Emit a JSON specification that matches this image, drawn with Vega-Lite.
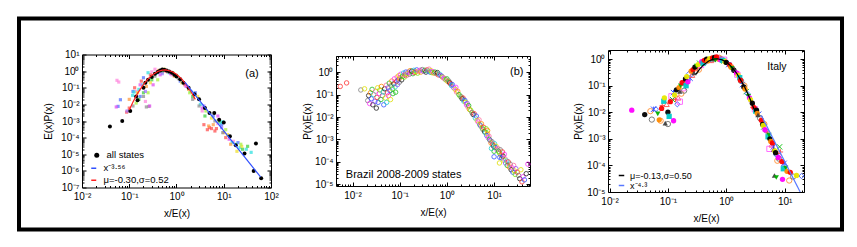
{
"$schema": "https://vega.github.io/schema/vega-lite/v6.json",
"padding": {"left": 16, "top": 16, "right": 14, "bottom": 16},
"background": "white",
"config": {
  "view": {"stroke": "#000", "strokeWidth": 1},
  "font": "Liberation Sans",
  "axis": {"labelFont": "Liberation Sans", "labelFontSize": 10, "titleFont": "Liberation Sans", "titleFontSize": 10, "titleFontWeight": "normal", "grid": false, "domain": false, "tickColor": "#000", "labelColor": "#000", "titleColor": "#000", "labelFlush": false, "labelOverlap": false, "labelBound": false},
  "legend": {"labelFont": "Liberation Sans", "labelColor": "#000"},
  "text": {"font": "Liberation Sans"}
},
"datasets": {
  "aAll": [
    {"g":"all states","x":0.039,"y":4.7e-4},{"g":"all states","x":0.071,"y":1.0e-3},{"g":"all states","x":0.105,"y":4.0e-3},{"g":"all states","x":0.14,"y":0.03},{"g":"all states","x":0.15,"y":0.018},{"g":"all states","x":0.2,"y":0.1},{"g":"all states","x":0.22,"y":0.2},{"g":"all states","x":0.25,"y":0.3},{"g":"all states","x":0.3,"y":0.45},{"g":"all states","x":0.35,"y":0.7},{"g":"all states","x":0.4,"y":0.9},{"g":"all states","x":0.45,"y":1.1},{"g":"all states","x":0.5,"y":1.25},{"g":"all states","x":0.55,"y":1.2},{"g":"all states","x":0.62,"y":1.1},{"g":"all states","x":0.7,"y":0.95},{"g":"all states","x":0.8,"y":0.8},{"g":"all states","x":0.9,"y":0.6},{"g":"all states","x":1.0,"y":0.48},{"g":"all states","x":1.2,"y":0.32},{"g":"all states","x":1.4,"y":0.2},{"g":"all states","x":1.8,"y":0.1},{"g":"all states","x":2.4,"y":0.04},{"g":"all states","x":3.0,"y":0.02},{"g":"all states","x":4.0,"y":6e-3},{"g":"all states","x":5.0,"y":3e-3},{"g":"all states","x":6.3,"y":3e-3},{"g":"all states","x":8.0,"y":1.2e-3},{"g":"all states","x":10,"y":8e-4},{"g":"all states","x":13.5,"y":1.2e-4},{"g":"all states","x":18,"y":3.5e-5},{"g":"all states","x":27.5,"y":1.1e-5},{"g":"all states","x":48,"y":4.4e-5},{"g":"all states","x":43,"y":1.0e-6},{"g":"all states","x":62,"y":3.6e-7}
  ],
  "aLines": [
    {"g":"μ=-0.30,σ=0.52","x":0.1,"y":4.6e-3},{"g":"μ=-0.30,σ=0.52","x":0.12,"y":0.014},{"g":"μ=-0.30,σ=0.52","x":0.15,"y":0.0458},{"g":"μ=-0.30,σ=0.52","x":0.2,"y":0.161},{"g":"μ=-0.30,σ=0.52","x":0.25,"y":0.346},{"g":"μ=-0.30,σ=0.52","x":0.3,"y":0.564},{"g":"μ=-0.30,σ=0.52","x":0.4,"y":0.95},{"g":"μ=-0.30,σ=0.52","x":0.5,"y":1.153},{"g":"μ=-0.30,σ=0.52","x":0.6,"y":1.177},{"g":"μ=-0.30,σ=0.52","x":0.8,"y":0.948},{"g":"μ=-0.30,σ=0.52","x":1.0,"y":0.649},{"g":"μ=-0.30,σ=0.52","x":1.3,"y":0.329},{"g":"μ=-0.30,σ=0.52","x":1.6,"y":0.16},{"g":"μ=-0.30,σ=0.52","x":2.0,"y":0.062},{"g":"μ=-0.30,σ=0.52","x":2.5,"y":0.02},
    {"g":"x⁻³·⁵⁶","x":1.5,"y":0.22},{"g":"x⁻³·⁵⁶","x":60,"y":4.4e-7}
  ],
  "aStates": [
    {"s":8,"x":0.055,"y":0.28},{"s":8,"x":0.06,"y":0.22},{"s":8,"x":0.22,"y":0.015},{"s":8,"x":0.3,"y":0.9},{"s":8,"x":0.35,"y":1.3},{"s":8,"x":0.8,"y":0.6},{"s":8,"x":3.5,"y":0.004},{"s":8,"x":7.5,"y":7e-4},{"s":8,"x":16,"y":6e-5},{"s":8,"x":0.14,"y":0.06},
    {"s":2,"x":0.065,"y":0.019},{"s":2,"x":0.058,"y":0.0076},{"s":2,"x":0.12,"y":0.06},{"s":2,"x":0.2,"y":0.4},{"s":2,"x":0.45,"y":1.0},{"s":2,"x":1.2,"y":0.25},{"s":2,"x":2.5,"y":0.05},{"s":2,"x":6,"y":2e-3},{"s":2,"x":9,"y":6e-4},{"s":2,"x":20,"y":5e-5},{"s":2,"x":0.17,"y":0.03},
    {"s":0,"x":0.088,"y":0.0034},{"s":0,"x":0.1,"y":0.006},{"s":0,"x":0.13,"y":0.1},{"s":0,"x":0.18,"y":0.25},{"s":0,"x":0.28,"y":0.6},{"s":0,"x":0.6,"y":1.0},{"s":0,"x":1.5,"y":0.15},{"s":0,"x":4.5,"y":3e-4},{"s":0,"x":5,"y":4e-4},{"s":0,"x":5.5,"y":3.5e-4},{"s":0,"x":6.5,"y":2.5e-4},{"s":0,"x":7,"y":3.5e-4},{"s":0,"x":11,"y":1e-4},{"s":0,"x":3.8,"y":6e-4},
    {"s":4,"x":0.118,"y":0.035},{"s":4,"x":0.126,"y":0.055},{"s":4,"x":0.16,"y":0.08},{"s":4,"x":0.19,"y":0.15},{"s":4,"x":0.25,"y":0.8},{"s":4,"x":0.38,"y":0.75},{"s":4,"x":0.7,"y":0.8},{"s":4,"x":2,"y":0.06},{"s":4,"x":3.2,"y":0.01},{"s":4,"x":8.5,"y":8e-4},{"s":4,"x":15,"y":5e-5},{"s":4,"x":18,"y":4e-5},{"s":4,"x":22,"y":2.5e-5},{"s":4,"x":38,"y":1.3e-5},{"s":4,"x":30,"y":2e-5},{"s":4,"x":9.5,"y":9e-4},
    {"s":1,"x":0.16,"y":0.02},{"s":1,"x":0.2,"y":0.05},{"s":1,"x":0.3,"y":0.3},{"s":1,"x":0.5,"y":0.9},{"s":1,"x":1.0,"y":0.55},{"s":1,"x":2.2,"y":0.03},{"s":1,"x":4,"y":2e-3},{"s":1,"x":8,"y":1e-3},{"s":1,"x":25,"y":2e-5},{"s":1,"x":32,"y":3e-5},
    {"s":5,"x":0.1,"y":0.02},{"s":5,"x":0.23,"y":0.12},{"s":5,"x":0.42,"y":1.1},{"s":5,"x":0.9,"y":0.5},{"s":5,"x":1.8,"y":0.08},{"s":5,"x":4.8,"y":5e-4},{"s":5,"x":6.0,"y":6e-4},{"s":5,"x":10,"y":2e-4},{"s":5,"x":14,"y":4e-5},
    {"s":6,"x":0.15,"y":0.05},{"s":6,"x":0.28,"y":0.2},{"s":6,"x":0.55,"y":1.3},{"s":6,"x":1.3,"y":0.2},{"s":6,"x":2.8,"y":0.03},{"s":6,"x":5.5,"y":1.5e-3},{"s":6,"x":12,"y":1.5e-4},{"s":6,"x":19,"y":1.5e-5},{"s":6,"x":24,"y":3e-5},
    {"s":7,"x":0.23,"y":0.007},{"s":7,"x":0.26,"y":0.0075},{"s":7,"x":0.2,"y":0.03},{"s":7,"x":0.12,"y":0.008},{"s":7,"x":0.35,"y":0.5},{"s":7,"x":0.65,"y":0.9},{"s":7,"x":1.1,"y":0.35},{"s":7,"x":2.2,"y":0.02},{"s":7,"x":3.0,"y":0.008},{"s":7,"x":6.5,"y":1e-3},{"s":7,"x":9.5,"y":2e-4},
    {"s":3,"x":0.053,"y":0.007},{"s":3,"x":0.27,"y":0.008},{"s":3,"x":0.17,"y":0.15},{"s":3,"x":0.32,"y":0.15},{"s":3,"x":0.45,"y":0.6},{"s":3,"x":0.75,"y":0.7},{"s":3,"x":1.6,"y":0.12},{"s":3,"x":3.5,"y":0.006},{"s":3,"x":7.5,"y":2e-3},{"s":3,"x":13,"y":8e-5},
    {"s":9,"x":0.14,"y":0.012},{"s":9,"x":0.25,"y":0.05},{"s":9,"x":0.4,"y":0.3},{"s":9,"x":0.85,"y":0.75},{"s":9,"x":1.9,"y":0.05},{"s":9,"x":4.2,"y":4e-3},{"s":9,"x":11,"y":3e-4},{"s":9,"x":23,"y":4e-5},
    {"s":10,"x":0.09,"y":0.004},{"s":10,"x":0.22,"y":0.06},{"s":10,"x":0.5,"y":0.7},{"s":10,"x":1.4,"y":0.2},{"s":10,"x":3.8,"y":0.008},{"s":10,"x":9,"y":4e-4}
  ],
  "bPts": [
    {"s":0,"x":0.0055,"y":0.23},{"s":0,"x":0.0075,"y":0.33},{"s":7,"x":0.015,"y":0.16},{"s":6,"x":0.018,"y":0.18},
    {"s":7,"x":0.021,"y":0.054},{"s":8,"x":0.022,"y":0.09},{"s":3,"x":0.023,"y":0.04},{"s":5,"x":0.024,"y":0.12},{"s":2,"x":0.025,"y":0.065},{"s":1,"x":0.026,"y":0.17},{"s":8,"x":0.027,"y":0.035},{"s":4,"x":0.028,"y":0.1},{"s":11,"x":0.03,"y":0.05},{"s":9,"x":0.031,"y":0.14},{"s":8,"x":0.032,"y":0.025},{"s":0,"x":0.033,"y":0.075},{"s":6,"x":0.034,"y":0.2},{"s":2,"x":0.035,"y":0.045},
    {"s":3,"x":0.037,"y":0.11},{"s":10,"x":0.038,"y":0.16},{"s":1,"x":0.04,"y":0.06},{"s":5,"x":0.041,"y":0.23},{"s":7,"x":0.043,"y":0.09},{"s":4,"x":0.045,"y":0.13},{"s":2,"x":0.046,"y":0.035},{"s":8,"x":0.048,"y":0.18},{"s":6,"x":0.05,"y":0.07},{"s":9,"x":0.052,"y":0.26},{"s":4,"x":0.053,"y":0.045},{"s":0,"x":0.055,"y":0.12},{"s":11,"x":0.057,"y":0.2},{"s":3,"x":0.058,"y":0.09},{"s":1,"x":0.06,"y":0.32},
    {"s":2,"x":0.062,"y":0.15},{"s":6,"x":0.064,"y":0.06},{"s":7,"x":0.066,"y":0.25},{"s":5,"x":0.068,"y":0.4},{"s":10,"x":0.07,"y":0.18},{"s":1,"x":0.072,"y":0.11},{"s":8,"x":0.075,"y":0.3},{"s":3,"x":0.077,"y":0.5},{"s":4,"x":0.08,"y":0.22},{"s":1,"x":0.082,"y":0.127},{"s":0,"x":0.085,"y":0.38},{"s":9,"x":0.088,"y":0.6},{"s":11,"x":0.09,"y":0.28},{"s":2,"x":0.093,"y":0.45},{"s":6,"x":0.096,"y":0.7},{"s":7,"x":0.098,"y":0.35},
    {"s":5,"x":0.1,"y":0.55},{"s":3,"x":0.105,"y":0.8},{"s":8,"x":0.11,"y":0.45},{"s":1,"x":0.115,"y":0.65},{"s":4,"x":0.12,"y":0.9},{"s":10,"x":0.125,"y":0.6},{"s":0,"x":0.13,"y":0.75},{"s":2,"x":0.135,"y":1.0},{"s":9,"x":0.14,"y":0.7},{"s":6,"x":0.145,"y":0.85},
    {"s":11,"x":0.15,"y":1.0},{"s":7,"x":0.16,"y":0.8},{"s":5,"x":0.165,"y":1.15},{"s":3,"x":0.17,"y":0.9},{"s":8,"x":0.18,"y":1.1},{"s":1,"x":0.19,"y":0.85},{"s":4,"x":0.2,"y":1.2},{"s":0,"x":0.21,"y":0.95},{"s":6,"x":0.22,"y":1.05},{"s":2,"x":0.23,"y":1.25},{"s":10,"x":0.24,"y":0.9},{"s":9,"x":0.25,"y":1.1},
    {"s":3,"x":0.27,"y":1.2},{"s":5,"x":0.28,"y":1.0},{"s":7,"x":0.3,"y":1.3},{"s":11,"x":0.32,"y":1.1},{"s":1,"x":0.34,"y":1.2},{"s":8,"x":0.36,"y":1.0},{"s":0,"x":0.38,"y":1.25},{"s":4,"x":0.4,"y":1.1},{"s":9,"x":0.42,"y":1.35},{"s":2,"x":0.44,"y":1.0},{"s":6,"x":0.46,"y":1.15},{"s":10,"x":0.48,"y":0.95},
    {"s":3,"x":0.5,"y":1.05},{"s":5,"x":0.53,"y":0.9},{"s":1,"x":0.56,"y":1.0},{"s":7,"x":0.6,"y":0.85},{"s":8,"x":0.63,"y":0.95},{"s":0,"x":0.66,"y":0.75},{"s":4,"x":0.7,"y":0.8},{"s":11,"x":0.74,"y":0.7},{"s":2,"x":0.78,"y":0.65},
    {"s":6,"x":0.8,"y":0.6},{"s":9,"x":0.85,"y":0.55},{"s":3,"x":0.9,"y":0.5},{"s":10,"x":0.95,"y":0.45},{"s":1,"x":1.0,"y":0.5},{"s":5,"x":1.05,"y":0.38},{"s":7,"x":1.1,"y":0.4},{"s":8,"x":1.15,"y":0.33},{"s":0,"x":1.2,"y":0.3},
    {"s":4,"x":1.25,"y":0.25},{"s":2,"x":1.3,"y":0.28},{"s":11,"x":1.4,"y":0.2},{"s":6,"x":1.5,"y":0.17},{"s":3,"x":1.55,"y":0.21},{"s":9,"x":1.6,"y":0.13},{"s":5,"x":1.7,"y":0.14},{"s":1,"x":1.8,"y":0.1},{"s":10,"x":1.9,"y":0.085},{"s":7,"x":2.0,"y":0.08},
    {"s":8,"x":2.1,"y":0.065},{"s":0,"x":2.2,"y":0.07},{"s":4,"x":2.3,"y":0.05},{"s":2,"x":2.4,"y":0.055},{"s":6,"x":2.5,"y":0.045},{"s":3,"x":2.6,"y":0.035},{"s":11,"x":2.7,"y":0.04},{"s":9,"x":2.8,"y":0.028},{"s":1,"x":2.9,"y":0.032},{"s":5,"x":3.0,"y":0.022},
    {"s":10,"x":3.2,"y":0.02},{"s":7,"x":3.4,"y":0.016},{"s":8,"x":3.6,"y":0.013},{"s":0,"x":3.8,"y":0.014},{"s":4,"x":4.0,"y":0.009},{"s":2,"x":4.2,"y":0.011},{"s":6,"x":4.4,"y":0.007},{"s":3,"x":4.6,"y":0.006},{"s":9,"x":4.8,"y":0.0075},{"s":1,"x":5.0,"y":0.0045},
    {"s":11,"x":5.2,"y":0.004},{"s":5,"x":5.4,"y":0.005},{"s":10,"x":5.6,"y":0.0032},{"s":7,"x":5.8,"y":0.0028},{"s":0,"x":6.0,"y":0.0035},{"s":8,"x":6.3,"y":0.0022},{"s":4,"x":6.6,"y":0.002},{"s":2,"x":7.0,"y":0.0015},{"s":6,"x":7.2,"y":0.0018},{"s":3,"x":7.5,"y":0.0012},{"s":9,"x":7.8,"y":0.0014},{"s":1,"x":8.0,"y":0.001},{"s":10,"x":6.8,"y":0.003},{"s":5,"x":7.3,"y":0.0025},
    {"s":11,"x":8.3,"y":9e-4},{"s":5,"x":8.6,"y":7e-4},{"s":7,"x":9.0,"y":8e-4},{"s":0,"x":9.4,"y":6e-4},{"s":8,"x":9.8,"y":5e-4},{"s":4,"x":10.2,"y":6.5e-4},{"s":2,"x":10.6,"y":4.5e-4},{"s":6,"x":11,"y":5e-4},{"s":3,"x":11.5,"y":3.5e-4},{"s":9,"x":12,"y":4e-4},{"s":4,"x":8.8,"y":4e-4},{"s":1,"x":10,"y":3e-4},{"s":2,"x":10,"y":1.7e-4},{"s":6,"x":13,"y":9e-5},
    {"s":1,"x":12.5,"y":3e-4},{"s":10,"x":13,"y":2.5e-4},{"s":7,"x":13.5,"y":3.5e-4},{"s":5,"x":14,"y":2e-4},{"s":2,"x":14.5,"y":1.5e-4},{"s":0,"x":15,"y":2.8e-4},{"s":8,"x":15.5,"y":1.8e-4},{"s":6,"x":16,"y":1.2e-4},{"s":3,"x":16.5,"y":2.2e-4},{"s":9,"x":17,"y":1.4e-4},{"s":11,"x":17.5,"y":9e-5},{"s":2,"x":13.2,"y":1.6e-4},
    {"s":4,"x":18.5,"y":1.1e-4},{"s":1,"x":19,"y":7e-5},{"s":0,"x":20,"y":1e-4},{"s":5,"x":21,"y":6e-5},{"s":7,"x":22,"y":8e-5},{"s":8,"x":23,"y":4.5e-5},{"s":3,"x":24,"y":5.5e-5},{"s":2,"x":25,"y":3.5e-5},{"s":9,"x":26,"y":7e-5},{"s":6,"x":27,"y":4e-5},{"s":10,"x":28,"y":2.8e-5},{"s":11,"x":29,"y":5e-5},
    {"s":0,"x":31,"y":3.5e-5},{"s":7,"x":33,"y":2.5e-5},{"s":8,"x":35,"y":1.8e-5},{"s":6,"x":37,"y":4.5e-5},{"s":0,"x":39,"y":1.3e-5},{"s":3,"x":41,"y":2.2e-5},{"s":2,"x":44,"y":1.6e-5},{"s":8,"x":48,"y":3e-5},{"s":3,"x":52,"y":8e-5}
  ],
  "cF": [
    {"s":2,"x":0.024,"y":0.012},{"s":0,"x":0.04,"y":0.0082},{"s":5,"x":0.067,"y":0.0087},{"s":3,"x":0.071,"y":0.0052},{"s":1,"x":0.078,"y":0.014},{"s":4,"x":0.085,"y":0.026},{"s":6,"x":0.087,"y":0.035},{"s":13,"x":0.09,"y":0.0039},{"s":0,"x":0.1,"y":0.01},{"s":4,"x":0.105,"y":0.007},{"s":2,"x":0.125,"y":0.0048},
    {"s":1,"x":0.11,"y":0.025},{"s":6,"x":0.13,"y":0.045},{"s":0,"x":0.14,"y":0.07},{"s":3,"x":0.155,"y":0.085},{"s":13,"x":0.16,"y":0.06},{"s":5,"x":0.165,"y":0.1},{"s":1,"x":0.175,"y":0.13},
    {"s":0,"x":0.2,"y":0.18},{"s":4,"x":0.205,"y":0.1},{"s":6,"x":0.21,"y":0.22},{"s":2,"x":0.22,"y":0.14},{"s":3,"x":0.25,"y":0.35},{"s":1,"x":0.27,"y":0.4},{"s":13,"x":0.28,"y":0.3},{"s":0,"x":0.29,"y":0.5},{"s":5,"x":0.31,"y":0.55},{"s":6,"x":0.33,"y":0.62},
    {"s":2,"x":0.38,"y":0.8},{"s":4,"x":0.4,"y":0.7},{"s":1,"x":0.42,"y":0.9},{"s":0,"x":0.46,"y":1.0},{"s":3,"x":0.48,"y":0.85},
    {"s":6,"x":0.52,"y":1.05},{"s":1,"x":0.58,"y":1.1},{"s":13,"x":0.6,"y":1.0},{"s":0,"x":0.63,"y":1.15},{"s":3,"x":0.73,"y":1.0},{"s":2,"x":0.79,"y":0.95},{"s":1,"x":0.68,"y":1.2},{"s":5,"x":0.65,"y":0.9},
    {"s":4,"x":0.86,"y":0.9},{"s":6,"x":0.95,"y":0.8},{"s":0,"x":1.0,"y":0.75},{"s":1,"x":1.15,"y":0.6},{"s":3,"x":1.2,"y":0.5},
    {"s":5,"x":1.25,"y":0.45},{"s":0,"x":1.35,"y":0.38},{"s":13,"x":1.4,"y":0.4},{"s":2,"x":1.5,"y":0.3},{"s":6,"x":1.6,"y":0.25},
    {"s":4,"x":1.7,"y":0.2},{"s":1,"x":1.75,"y":0.16},{"s":0,"x":2.0,"y":0.09},{"s":3,"x":2.1,"y":0.075},
    {"s":5,"x":2.4,"y":0.04},{"s":2,"x":2.5,"y":0.035},{"s":6,"x":2.6,"y":0.03},{"s":0,"x":2.8,"y":0.022},{"s":1,"x":3.0,"y":0.015},
    {"s":4,"x":3.2,"y":0.011},{"s":0,"x":3.3,"y":0.012},{"s":3,"x":3.4,"y":0.009},{"s":13,"x":3.5,"y":0.008},{"s":1,"x":4.0,"y":0.005},
    {"s":0,"x":4.2,"y":0.0035},{"s":6,"x":4.3,"y":0.0032},{"s":2,"x":4.6,"y":0.0022},
    {"s":4,"x":5.2,"y":0.0012},{"s":5,"x":5.4,"y":0.0014},{"s":0,"x":5.6,"y":0.001},{"s":3,"x":5.8,"y":8e-4},{"s":1,"x":6.2,"y":7e-4},{"s":13,"x":6.5,"y":4e-4},
    {"s":6,"x":6.8,"y":3.5e-4},{"s":0,"x":7.0,"y":3e-4},{"s":2,"x":7.8,"y":2e-4},
    {"s":1,"x":9.0,"y":1.4e-4},{"s":4,"x":9.5,"y":7.5e-5},{"s":5,"x":10.5,"y":8e-5},{"s":3,"x":11,"y":6e-5},{"s":2,"x":9.2,"y":3e-5},
    {"s":13,"x":6.7,"y":4.2e-5},{"s":5,"x":7.2,"y":3.5e-5},{"s":6,"x":16,"y":4.2e-5},{"s":1,"x":12.5,"y":5.5e-5}
  ],
  "cO": [
    {"s":7,"x":0.053,"y":0.0053},{"s":14,"x":0.05,"y":0.011},{"s":12,"x":0.057,"y":0.013},{"s":9,"x":0.062,"y":0.013},{"s":14,"x":0.075,"y":0.0048},{"s":7,"x":0.1,"y":0.0036},{"s":15,"x":0.095,"y":0.02},{"s":10,"x":0.08,"y":0.018},
    {"s":8,"x":0.115,"y":0.04},{"s":11,"x":0.12,"y":0.03},{"s":12,"x":0.125,"y":0.055},{"s":10,"x":0.135,"y":0.03},{"s":9,"x":0.145,"y":0.02},{"s":15,"x":0.15,"y":0.035},{"s":14,"x":0.17,"y":0.05},{"s":8,"x":0.18,"y":0.08},{"s":10,"x":0.185,"y":0.15},{"s":7,"x":0.19,"y":0.065},{"s":11,"x":0.195,"y":0.12},{"s":8,"x":0.16,"y":0.025},
    {"s":9,"x":0.23,"y":0.28},{"s":12,"x":0.24,"y":0.19},{"s":15,"x":0.26,"y":0.25},{"s":7,"x":0.3,"y":0.35},{"s":10,"x":0.32,"y":0.45},{"s":14,"x":0.34,"y":0.4},{"s":11,"x":0.35,"y":0.7},
    {"s":8,"x":0.37,"y":0.6},{"s":9,"x":0.44,"y":0.75},{"s":12,"x":0.5,"y":0.95},
    {"s":15,"x":0.55,"y":0.9},{"s":10,"x":0.66,"y":1.05},{"s":8,"x":0.7,"y":1.1},{"s":14,"x":0.76,"y":1.12},
    {"s":7,"x":0.82,"y":1.0},{"s":11,"x":0.9,"y":0.85},{"s":9,"x":1.05,"y":0.7},{"s":12,"x":1.1,"y":0.62},{"s":8,"x":0.92,"y":0.95},
    {"s":15,"x":1.3,"y":0.5},{"s":10,"x":1.45,"y":0.32},{"s":8,"x":1.55,"y":0.26},
    {"s":7,"x":1.8,"y":0.15},{"s":12,"x":1.9,"y":0.11},{"s":14,"x":2.05,"y":0.1},{"s":11,"x":2.2,"y":0.06},
    {"s":9,"x":2.3,"y":0.05},{"s":10,"x":2.7,"y":0.025},{"s":15,"x":2.9,"y":0.018},
    {"s":8,"x":3.1,"y":0.013},{"s":12,"x":3.6,"y":0.0085},{"s":7,"x":3.8,"y":0.006},
    {"s":11,"x":4.4,"y":0.0028},{"s":14,"x":4.5,"y":0.0036},{"s":9,"x":4.8,"y":0.002},{"s":10,"x":5.0,"y":0.0018},
    {"s":15,"x":6.0,"y":6e-4},{"s":12,"x":6.4,"y":5e-4},{"s":8,"x":5.5,"y":4.2e-4},
    {"s":9,"x":7.2,"y":2.5e-4},{"s":10,"x":7.5,"y":2.8e-4},{"s":7,"x":8.0,"y":1.8e-4},{"s":11,"x":8.2,"y":5e-4},{"s":10,"x":8.5,"y":3.2e-4},{"s":14,"x":7.5,"y":1.5e-4},
    {"s":12,"x":9.8,"y":1.2e-4},{"s":9,"x":10,"y":1e-4},
    {"s":14,"x":12,"y":2.7e-5},{"s":9,"x":19.5,"y":4e-5},{"s":7,"x":14,"y":3.8e-5}
  ],
  "cLines": [
    {"g":"μ=-0.13,σ=0.50","x":0.3,"y":0.265},{"g":"μ=-0.13,σ=0.50","x":0.35,"y":0.42},{"g":"μ=-0.13,σ=0.50","x":0.4,"y":0.58},{"g":"μ=-0.13,σ=0.50","x":0.5,"y":0.846},{"g":"μ=-0.13,σ=0.50","x":0.6,"y":0.995},{"g":"μ=-0.13,σ=0.50","x":0.7,"y":1.03},{"g":"μ=-0.13,σ=0.50","x":0.85,"y":0.937},{"g":"μ=-0.13,σ=0.50","x":1.0,"y":0.772},{"g":"μ=-0.13,σ=0.50","x":1.2,"y":0.547},{"g":"μ=-0.13,σ=0.50","x":1.5,"y":0.30},{"g":"μ=-0.13,σ=0.50","x":2.0,"y":0.103},{"g":"μ=-0.13,σ=0.50","x":2.5,"y":0.0358},{"g":"μ=-0.13,σ=0.50","x":3.0,"y":0.013},
    {"g":"x⁻⁴·³","x":4.0,"y":7.6e-3},{"g":"x⁻⁴·³","x":18.5,"y":1.0e-5}
  ]
},
"bounds": "flush",
"center": true,
"spacing": 0,
"resolve": {"scale": {"color": "independent", "fill": "independent", "stroke": "independent", "shape": "independent"}, "legend": {"color": "independent", "fill": "independent", "stroke": "independent", "shape": "independent"}},
"hconcat": [
    {"width": 189, "height": 133,
     "resolve": {"axis": {"x": "independent", "y": "independent"}},
     "layer": [
      {"data": {"name": "aStates"}, "mark": {"type": "square", "size": 10, "opacity": 0.75, "filled": true},
       "encoding": {
        "x": {"field": "x", "type": "quantitative", "scale": {"type": "log", "domain": [0.01, 100], "nice": false},
              "axis": {"orient": "bottom", "values": [0.01,0.02,0.03,0.04,0.05,0.06,0.07,0.08,0.09,0.1,0.2,0.3,0.4,0.5,0.6,0.7,0.8,0.9,1,2,3,4,5,6,7,8,9,10,20,30,40,50,60,70,80,90,100],
                       "labelExpr": "abs(log(datum.value)/LN10 - round(log(datum.value)/LN10)) < 0.01 ? '10' + (datum.value < 0.5 ? '⁻' : '') + substring('⁰¹²³⁴⁵⁶⁷⁸⁹', abs(round(log(datum.value)/LN10)), abs(round(log(datum.value)/LN10)) + 1) : ''",
                       "tickSize": {"condition": {"test": "abs(log(datum.value)/LN10 - round(log(datum.value)/LN10)) < 0.01", "value": -4}, "value": -2},
                       "labelPadding": 8, "title": "x/E(x)", "titlePadding": 5}},
        "y": {"field": "y", "type": "quantitative", "scale": {"type": "log", "domain": [1e-7, 10], "nice": false},
              "axis": {"orient": "left", "values": [1e-7,2e-7,3e-7,4e-7,5e-7,6e-7,7e-7,8e-7,9e-7,1e-6,2e-6,3e-6,4e-6,5e-6,6e-6,7e-6,8e-6,9e-6,1e-5,2e-5,3e-5,4e-5,5e-5,6e-5,7e-5,8e-5,9e-5,1e-4,2e-4,3e-4,4e-4,5e-4,6e-4,7e-4,8e-4,9e-4,0.001,0.002,0.003,0.004,0.005,0.006,0.007,0.008,0.009,0.01,0.02,0.03,0.04,0.05,0.06,0.07,0.08,0.09,0.1,0.2,0.3,0.4,0.5,0.6,0.7,0.8,0.9,1,2,3,4,5,6,7,8,9,10],
                       "labelExpr": "abs(log(datum.value)/LN10 - round(log(datum.value)/LN10)) < 0.01 ? '10' + (datum.value < 0.5 ? '⁻' : '') + substring('⁰¹²³⁴⁵⁶⁷⁸⁹', abs(round(log(datum.value)/LN10)), abs(round(log(datum.value)/LN10)) + 1) : ''",
                       "tickSize": {"condition": {"test": "abs(log(datum.value)/LN10 - round(log(datum.value)/LN10)) < 0.01", "value": -4}, "value": -2},
                       "labelPadding": 7, "title": "E(x)P(x)", "titlePadding": 7}},
        "fill": {"field": "s", "type": "nominal", "scale": {"domain": [0,1,2,3,4,5,6,7,8,9,10], "range": ["#ff5050","#40d040","#5070ff","#e050f0","#30e0e0","#ff9a40","#f0e030","#909090","#ff88dd","#a8f040","#a070ff"]}, "legend": null}
       }},
      {"data": {"name": "aAll"}, "mark": {"type": "circle", "size": 16, "opacity": 1},
       "encoding": {
        "x": {"field": "x", "type": "quantitative", "scale": {"type": "log"},
              "axis": {"orient": "top", "values": [0.01,0.02,0.03,0.04,0.05,0.06,0.07,0.08,0.09,0.1,0.2,0.3,0.4,0.5,0.6,0.7,0.8,0.9,1,2,3,4,5,6,7,8,9,10,20,30,40,50,60,70,80,90,100], "labels": false, "title": null,
                       "tickSize": {"condition": {"test": "abs(log(datum.value)/LN10 - round(log(datum.value)/LN10)) < 0.01", "value": -4}, "value": -2}}},
        "y": {"field": "y", "type": "quantitative", "scale": {"type": "log"},
              "axis": {"orient": "right", "values": [1e-7,2e-7,3e-7,4e-7,5e-7,6e-7,7e-7,8e-7,9e-7,1e-6,2e-6,3e-6,4e-6,5e-6,6e-6,7e-6,8e-6,9e-6,1e-5,2e-5,3e-5,4e-5,5e-5,6e-5,7e-5,8e-5,9e-5,1e-4,2e-4,3e-4,4e-4,5e-4,6e-4,7e-4,8e-4,9e-4,0.001,0.002,0.003,0.004,0.005,0.006,0.007,0.008,0.009,0.01,0.02,0.03,0.04,0.05,0.06,0.07,0.08,0.09,0.1,0.2,0.3,0.4,0.5,0.6,0.7,0.8,0.9,1,2,3,4,5,6,7,8,9,10], "labels": false, "title": null,
                       "tickSize": {"condition": {"test": "abs(log(datum.value)/LN10 - round(log(datum.value)/LN10)) < 0.01", "value": -4}, "value": -2}}},
        "color": {"field": "g", "type": "nominal", "scale": {"domain": ["all states"], "range": ["#000000"]},
                  "legend": {"orient": "none", "legendX": 10, "legendY": 96, "title": null, "labelFontSize": 9.5, "symbolSize": 25, "labelOffset": 5, "padding": 0}}
       }},
      {"data": {"name": "aLines"}, "mark": {"type": "line", "strokeWidth": 1.2, "clip": true},
       "encoding": {
        "x": {"field": "x", "type": "quantitative", "scale": {"type": "log"}, "axis": null},
        "y": {"field": "y", "type": "quantitative", "scale": {"type": "log"}, "axis": null},
        "stroke": {"field": "g", "type": "nominal", "scale": {"domain": ["x⁻³·⁵⁶", "μ=-0.30,σ=0.52"], "range": ["#3050ff", "#ff2020"]},
                   "legend": {"orient": "bottom-left", "offset": 2, "title": null, "labelFontSize": 9.5, "symbolSize": 25, "rowPadding": 1, "labelOffset": 5, "padding": 0, "symbolOffset": 5, "symbolType": "stroke", "symbolStrokeWidth": 1.5}}
       }},
      {"data": {"values": [{"t": "(a)"}]}, "mark": {"type": "text", "fontSize": 11},
       "encoding": {
        "x": {"datum": 39.6, "type": "quantitative", "scale": {"type": "log"}, "axis": null},
        "y": {"datum": 0.716, "type": "quantitative", "scale": {"type": "log"}, "axis": null},
        "text": {"field": "t"}
       }},
      {"data": {"values": [{"k": "frame"}]}, "mark": {"type": "rect", "filled": false, "stroke": "#000", "strokeWidth": 4, "clip": false},
       "encoding": {
        "x": {"datum": 4.642e-4, "type": "quantitative", "scale": {"type": "log"}, "axis": null},
        "x2": {"datum": 1.216e14},
        "y": {"datum": 1463.5, "type": "quantitative", "scale": {"type": "log"}, "axis": null},
        "y2": {"datum": 2.98e-10}
       }}
     ]},
    {"width": 65, "height": 10, "view": {"stroke": null}, "data": {"values": [{"k": 1}]}, "mark": {"type": "point", "opacity": 0}, "encoding": {}},
      {"width": 194, "height": 130,
       "resolve": {"axis": {"x": "independent", "y": "independent"}},
       "layer": [
        {"data": {"name": "bPts"}, "mark": {"type": "point", "shape": "circle", "size": 20, "strokeWidth": 1, "opacity": 0.8, "filled": false},
         "encoding": {
          "x": {"field": "x", "type": "quantitative", "scale": {"type": "log", "domain": [0.00447, 57.7], "nice": false},
                "axis": {"orient": "bottom", "values": [0.005,0.006,0.007,0.008,0.009,0.01,0.02,0.03,0.04,0.05,0.06,0.07,0.08,0.09,0.1,0.2,0.3,0.4,0.5,0.6,0.7,0.8,0.9,1,2,3,4,5,6,7,8,9,10,20,30,40,50],
                         "labelExpr": "abs(log(datum.value)/LN10 - round(log(datum.value)/LN10)) < 0.01 ? '10' + (datum.value < 0.5 ? '⁻' : '') + substring('⁰¹²³⁴⁵⁶⁷⁸⁹', abs(round(log(datum.value)/LN10)), abs(round(log(datum.value)/LN10)) + 1) : ''",
                         "tickSize": {"condition": {"test": "abs(log(datum.value)/LN10 - round(log(datum.value)/LN10)) < 0.01", "value": -4}, "value": -2},
                         "labelPadding": 8, "title": "x/E(x)", "titlePadding": 5}},
          "y": {"field": "y", "type": "quantitative", "scale": {"type": "log", "domain": [8.5e-6, 5.2], "nice": false},
                "axis": {"orient": "left", "values": [9e-6,1e-5,2e-5,3e-5,4e-5,5e-5,6e-5,7e-5,8e-5,9e-5,1e-4,2e-4,3e-4,4e-4,5e-4,6e-4,7e-4,8e-4,9e-4,0.001,0.002,0.003,0.004,0.005,0.006,0.007,0.008,0.009,0.01,0.02,0.03,0.04,0.05,0.06,0.07,0.08,0.09,0.1,0.2,0.3,0.4,0.5,0.6,0.7,0.8,0.9,1,2,3,4,5],
                         "labelExpr": "abs(log(datum.value)/LN10 - round(log(datum.value)/LN10)) < 0.01 ? '10' + (datum.value < 0.5 ? '⁻' : '') + substring('⁰¹²³⁴⁵⁶⁷⁸⁹', abs(round(log(datum.value)/LN10)), abs(round(log(datum.value)/LN10)) + 1) : ''",
                         "tickSize": {"condition": {"test": "abs(log(datum.value)/LN10 - round(log(datum.value)/LN10)) < 0.01", "value": -4}, "value": -2},
                         "labelPadding": 7, "title": "P(x)E(x)", "titlePadding": 2}},
          "color": {"field": "s", "type": "nominal", "scale": {"domain": [0,1,2,3,4,5,6,7,8,9,10,11], "range": ["#ff3030","#20c020","#3050ff","#ff30ff","#20d0d0","#ff8c00","#e0e000","#808080","#202020","#ff70a0","#70f000","#9050ff"]}, "legend": null}
         }},
        {"data": {"values": [{"t": "Brazil 2008-2009 states"}]}, "mark": {"type": "text", "fontSize": 11, "align": "left", "baseline": "middle"},
         "encoding": {
          "x": {"datum": 0.00723, "type": "quantitative", "scale": {"type": "log"},
                "axis": {"orient": "top", "values": [0.005,0.006,0.007,0.008,0.009,0.01,0.02,0.03,0.04,0.05,0.06,0.07,0.08,0.09,0.1,0.2,0.3,0.4,0.5,0.6,0.7,0.8,0.9,1,2,3,4,5,6,7,8,9,10,20,30,40,50], "labels": false, "title": null,
                         "tickSize": {"condition": {"test": "abs(log(datum.value)/LN10 - round(log(datum.value)/LN10)) < 0.01", "value": -4}, "value": -2}}},
          "y": {"datum": 2.54e-5, "type": "quantitative", "scale": {"type": "log"},
                "axis": {"orient": "right", "values": [9e-6,1e-5,2e-5,3e-5,4e-5,5e-5,6e-5,7e-5,8e-5,9e-5,1e-4,2e-4,3e-4,4e-4,5e-4,6e-4,7e-4,8e-4,9e-4,0.001,0.002,0.003,0.004,0.005,0.006,0.007,0.008,0.009,0.01,0.02,0.03,0.04,0.05,0.06,0.07,0.08,0.09,0.1,0.2,0.3,0.4,0.5,0.6,0.7,0.8,0.9,1,2,3,4,5], "labels": false, "title": null,
                         "tickSize": {"condition": {"test": "abs(log(datum.value)/LN10 - round(log(datum.value)/LN10)) < 0.01", "value": -4}, "value": -2}}},
          "text": {"field": "t"}
         }},
        {"data": {"values": [{"t": "(b)"}]}, "mark": {"type": "text", "fontSize": 11},
         "encoding": {
          "x": {"datum": 30.3, "type": "quantitative", "scale": {"type": "log"}, "axis": null},
          "y": {"datum": 1.03, "type": "quantitative", "scale": {"type": "log"}, "axis": null},
          "text": {"field": "t"}
         }}
       ]},
    {"width": 78, "height": 10, "view": {"stroke": null}, "data": {"values": [{"k": 1}]}, "mark": {"type": "point", "opacity": 0}, "encoding": {}},
      {"width": 196, "height": 142,
       "resolve": {"axis": {"x": "independent", "y": "independent"}},
       "layer": [
        {"data": {"name": "cO"}, "mark": {"type": "point", "size": 28, "strokeWidth": 1, "filled": false, "opacity": 0.9},
         "encoding": {
          "x": {"field": "x", "type": "quantitative", "scale": {"type": "log", "domain": [0.0094, 21.5], "nice": false},
                "axis": {"orient": "bottom", "values": [0.01,0.02,0.03,0.04,0.05,0.06,0.07,0.08,0.09,0.1,0.2,0.3,0.4,0.5,0.6,0.7,0.8,0.9,1,2,3,4,5,6,7,8,9,10,20],
                         "labelExpr": "abs(log(datum.value)/LN10 - round(log(datum.value)/LN10)) < 0.01 ? '10' + (datum.value < 0.5 ? '⁻' : '') + substring('⁰¹²³⁴⁵⁶⁷⁸⁹', abs(round(log(datum.value)/LN10)), abs(round(log(datum.value)/LN10)) + 1) : ''",
                         "tickSize": {"condition": {"test": "abs(log(datum.value)/LN10 - round(log(datum.value)/LN10)) < 0.01", "value": -4}, "value": -2},
                         "labelPadding": 8, "title": "x/E(x)", "titlePadding": 5}},
          "y": {"field": "y", "type": "quantitative", "scale": {"type": "log", "domain": [1e-5, 2.2], "nice": false},
                "axis": {"orient": "left", "values": [1e-5,2e-5,3e-5,4e-5,5e-5,6e-5,7e-5,8e-5,9e-5,1e-4,2e-4,3e-4,4e-4,5e-4,6e-4,7e-4,8e-4,9e-4,0.001,0.002,0.003,0.004,0.005,0.006,0.007,0.008,0.009,0.01,0.02,0.03,0.04,0.05,0.06,0.07,0.08,0.09,0.1,0.2,0.3,0.4,0.5,0.6,0.7,0.8,0.9,1,2],
                         "labelExpr": "abs(log(datum.value)/LN10 - round(log(datum.value)/LN10)) < 0.01 ? '10' + (datum.value < 0.5 ? '⁻' : '') + substring('⁰¹²³⁴⁵⁶⁷⁸⁹', abs(round(log(datum.value)/LN10)), abs(round(log(datum.value)/LN10)) + 1) : ''",
                         "tickSize": {"condition": {"test": "abs(log(datum.value)/LN10 - round(log(datum.value)/LN10)) < 0.01", "value": -4}, "value": -2},
                         "labelPadding": 7, "title": "P(x)E(x)", "titlePadding": 3}},
          "color": {"field": "s", "type": "nominal", "scale": {"domain": [0,1,2,3,4,5,6,7,8,9,10,11,12,13,14,15], "range": ["#000000","#ff0000","#ff00ff","#ff8c00","#00c8c8","#00b000","#e8e800","#707070","#ff60ff","#4060ff","#ff4040","#00c000","#2040ff","#404040","#ff9030","#ff5050"]}, "legend": null},
          "shape": {"field": "s", "type": "nominal", "scale": {"domain": [0,1,2,3,4,5,6,7,8,9,10,11,12,13,14,15], "range": ["circle","circle","circle","circle","square","triangle-down","circle","circle","square","diamond","M-1,0L1,0M0,-1L0,1","M-1,-1L1,1M1,-1L-1,1","M-1,-1L1,1M1,-1L-1,1M0,-1L0,1","triangle-up","circle","triangle-up"]}, "legend": null}
         }},
        {"data": {"name": "cF"}, "mark": {"type": "point", "size": 28, "filled": true, "opacity": 0.95},
         "encoding": {
          "x": {"field": "x", "type": "quantitative", "scale": {"type": "log"}, "axis": null},
          "y": {"field": "y", "type": "quantitative", "scale": {"type": "log"}, "axis": null},
          "color": {"field": "s", "type": "nominal", "legend": null},
          "shape": {"field": "s", "type": "nominal", "legend": null}
         }},
        {"data": {"name": "cLines"}, "mark": {"type": "line", "strokeWidth": 1.2, "clip": true},
         "encoding": {
          "x": {"field": "x", "type": "quantitative", "scale": {"type": "log"}, "axis": null},
          "y": {"field": "y", "type": "quantitative", "scale": {"type": "log"}, "axis": null},
          "stroke": {"field": "g", "type": "nominal", "scale": {"domain": ["μ=-0.13,σ=0.50", "x⁻⁴·³"], "range": ["#000000", "#5878ff"]},
                     "legend": {"orient": "bottom-left", "offset": 1, "title": null, "labelFontSize": 9, "symbolSize": 30, "rowPadding": -1, "symbolType": "stroke", "symbolStrokeWidth": 1.5, "padding": 0, "symbolOffset": 8, "labelOffset": 4}}
         }},
        {"data": {"values": [{"t": "Italy"}]}, "mark": {"type": "text", "fontSize": 10.5},
         "encoding": {
          "x": {"datum": 7.4, "type": "quantitative", "scale": {"type": "log"},
                "axis": {"orient": "top", "values": [0.01,0.02,0.03,0.04,0.05,0.06,0.07,0.08,0.09,0.1,0.2,0.3,0.4,0.5,0.6,0.7,0.8,0.9,1,2,3,4,5,6,7,8,9,10,20], "labels": false, "title": null,
                         "tickSize": {"condition": {"test": "abs(log(datum.value)/LN10 - round(log(datum.value)/LN10)) < 0.01", "value": -4}, "value": -2}}},
          "y": {"datum": 0.505, "type": "quantitative", "scale": {"type": "log"},
                "axis": {"orient": "right", "values": [1e-5,2e-5,3e-5,4e-5,5e-5,6e-5,7e-5,8e-5,9e-5,1e-4,2e-4,3e-4,4e-4,5e-4,6e-4,7e-4,8e-4,9e-4,0.001,0.002,0.003,0.004,0.005,0.006,0.007,0.008,0.009,0.01,0.02,0.03,0.04,0.05,0.06,0.07,0.08,0.09,0.1,0.2,0.3,0.4,0.5,0.6,0.7,0.8,0.9,1,2], "labels": false, "title": null,
                         "tickSize": {"condition": {"test": "abs(log(datum.value)/LN10 - round(log(datum.value)/LN10)) < 0.01", "value": -4}, "value": -2}}},
          "text": {"field": "t"}
         }}
       ]}
]
}
